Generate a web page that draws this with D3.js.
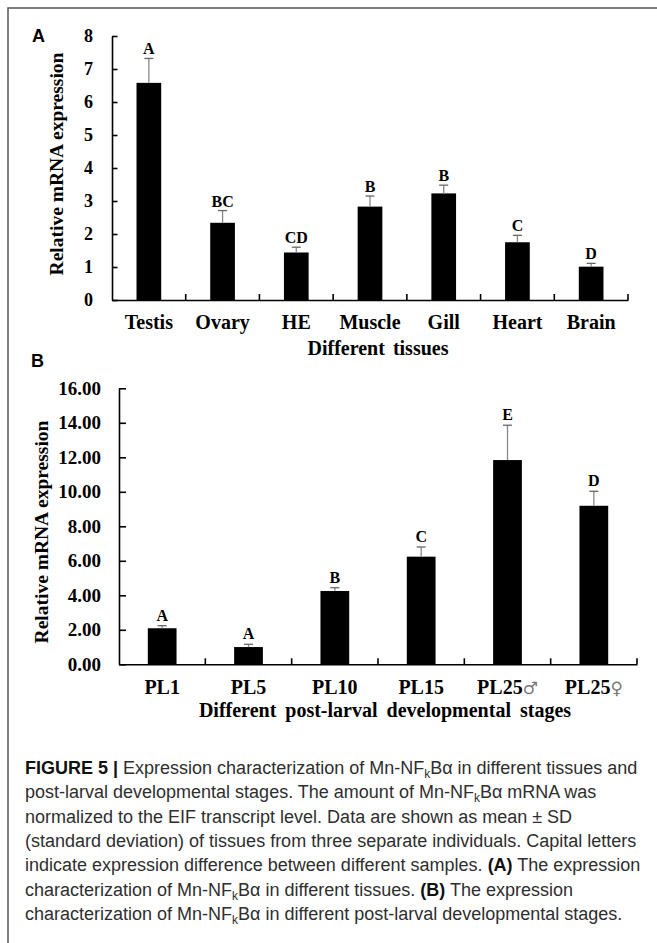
<!DOCTYPE html>
<html><head><meta charset="utf-8">
<script src="https://cdn.jsdelivr.net/npm/d3@7"></script>
<style>
html,body{margin:0;padding:0;background:#fff;}
svg{display:block;}
</style></head>
<body>
<svg id="fig" width="657" height="943"></svg>
<script>
// ---- Data ----
const tissues = ["Testis","Ovary","HE","Muscle","Gill","Heart","Brain"];
const tissueMeans = [6.58, 2.34, 1.44, 2.83, 3.23, 1.75, 1.01];
const tissueSD = [0.74, 0.37, 0.16, 0.32, 0.25, 0.21, 0.10];
const tissueLetters = ["A","BC","CD","B","B","C","D"];
const tissueTicks = [0,1,2,3,4,5,6,7,8];

const stages = ["PL1","PL5","PL10","PL15","PL25♂","PL25♀"];
const stageMeans = [2.09, 1.00, 4.25, 6.24, 11.84, 9.19];
const stageSD = [0.15, 0.16, 0.19, 0.56, 2.02, 0.84];
const stageLetters = ["A","A","B","C","E","D"];
const stageTicks = [0,2,4,6,8,10,12,14,16];

const yTitle = "Relative mRNA expression";
const xTitleA = "Different tissues";
const xTitleB = "Different post-larval developmental stages";

const captionLines = [
  [["FIGURE 5 | ","b"],["Expression characterization of Mn-NF",""],["k","sub"],["Bα in different tissues and",""]],
  [["post-larval developmental stages. The amount of Mn-NF",""],["k","sub"],["Bα mRNA was",""]],
  [["normalized to the EIF transcript level. Data are shown as mean ± SD",""]],
  [["(standard deviation) of tissues from three separate individuals. Capital letters",""]],
  [["indicate expression difference between different samples. ",""],["(A)","b"],[" The expression",""]],
  [["characterization of Mn-NF",""],["k","sub"],["Bα in different tissues. ",""],["(B)","b"],[" The expression",""]],
  [["characterization of Mn-NF",""],["k","sub"],["Bα in different post-larval developmental stages.",""]]
];

// ---- Drawing ----
const svg = d3.select("#fig");
svg.append("rect").attr("width",657).attr("height",943).attr("fill","#fff");
// frame
svg.append("path").attr("d","M8,943 V8 H657").attr("fill","none").attr("stroke","#555").attr("stroke-width",1.5);

const SERIF = "'Liberation Serif','Times New Roman',serif";
const SANS = "'Liberation Sans',Arial,sans-serif";

function panel(cfg){
  const g = svg.append("g");
  const x = d3.scaleBand().domain(cfg.cats).range([cfg.x0,cfg.x1]).padding(0);
  const y = d3.scaleLinear().domain([cfg.ticks[0], cfg.ticks[cfg.ticks.length-1]]).range([cfg.y0,cfg.y1]);
  const bw = x.bandwidth()*cfg.barFrac;

  // y axis
  const ya = g.append("g").attr("transform",`translate(${cfg.x0},0)`)
    .call(d3.axisLeft(y).tickValues(cfg.ticks).tickFormat(cfg.fmt).tickSizeInner(-cfg.tickLen).tickSizeOuter(0).tickPadding(cfg.yPad));
  ya.selectAll("path,line").attr("stroke","#000").attr("stroke-width",1.6);
  ya.selectAll("text").attr("font-family",SERIF).attr("font-weight","bold").attr("font-size",cfg.yFont).attr("fill","#000");

  // x axis
  const xa = g.append("g").attr("transform",`translate(0,${cfg.y0})`)
    .call(d3.axisBottom(x).tickSizeInner(0).tickSizeOuter(0).tickPadding(cfg.xPad));
  xa.selectAll("path").attr("stroke","#000").attr("stroke-width",1.6);
  xa.selectAll("text").attr("font-family",SERIF).attr("font-weight","bold").attr("font-size",cfg.xFont).attr("fill","#000");
  // boundary ticks
  g.selectAll(".bt").data(cfg.cats).enter().append("line")
    .attr("x1",d=>x(d)+x.step()).attr("x2",d=>x(d)+x.step())
    .attr("y1",cfg.y0).attr("y2",cfg.y0-6).attr("stroke","#000").attr("stroke-width",1.6);

  // bars
  const data = cfg.cats.map((c,i)=>({c, m:cfg.means[i], sd:cfg.sds[i], l:cfg.letters[i]}));
  g.selectAll(".bar").data(data).enter().append("rect")
    .attr("x",d=>x(d.c)+x.bandwidth()/2-bw/2).attr("width",bw)
    .attr("y",d=>y(d.m)).attr("height",d=>y(0)-y(d.m)).attr("fill","#000");
  // error bars
  g.selectAll(".eb").data(data).enter().append("line")
    .attr("x1",d=>x(d.c)+x.bandwidth()/2).attr("x2",d=>x(d.c)+x.bandwidth()/2)
    .attr("y1",d=>y(d.m)).attr("y2",d=>y(d.m+d.sd)).attr("stroke","#888").attr("stroke-width",1.3);
  g.selectAll(".ec").data(data).enter().append("line")
    .attr("x1",d=>x(d.c)+x.bandwidth()/2-4.5).attr("x2",d=>x(d.c)+x.bandwidth()/2+4.5)
    .attr("y1",d=>y(d.m+d.sd)).attr("y2",d=>y(d.m+d.sd)).attr("stroke","#666").attr("stroke-width",1.3);
  // letters
  g.selectAll(".lt").data(data).enter().append("text")
    .attr("x",d=>x(d.c)+x.bandwidth()/2).attr("y",d=>y(d.m+d.sd)-cfg.letterGap)
    .attr("text-anchor","middle").attr("font-family",SERIF).attr("font-weight","bold")
    .attr("font-size",cfg.letterFont).text(d=>d.l);

  // axis titles
  g.append("text").attr("transform",`translate(${cfg.yTitleX},${cfg.yTitleY}) rotate(-90)`)
    .attr("text-anchor","middle").attr("dominant-baseline","central")
    .attr("font-family",SERIF).attr("font-weight","bold").attr("font-size",cfg.yTitleFont).text(yTitle);
  g.append("text").attr("x",cfg.xTitleX).attr("y",cfg.xTitleY).attr("text-anchor","middle")
    .attr("font-family",SERIF).attr("font-weight","bold").attr("font-size",cfg.xTitleFont)
    .attr("word-spacing",cfg.wordSpacing).text(cfg.xTitle);
  // panel label
  g.append("text").attr("x",cfg.labelX).attr("y",cfg.labelY).attr("font-family",SANS)
    .attr("font-weight","bold").attr("font-size",18).text(cfg.label);
  return {g, xa};
}

panel({cats:tissues, means:tissueMeans, sds:tissueSD, letters:tissueLetters, ticks:tissueTicks,
  fmt:d3.format("d"), x0:112, x1:628, y0:300, y1:36, barFrac:0.335, tickLen:5.5, yPad:19, xPad:15,
  yFont:18, xFont:20, letterFont:16, letterGap:4, yTitleX:56, yTitleY:164, yTitleFont:19.5,
  xTitle:xTitleA, xTitleX:378, xTitleY:355, xTitleFont:20, wordSpacing:3, label:"A", labelX:32, labelY:42});

const pb = panel({cats:stages, means:stageMeans, sds:stageSD, letters:stageLetters, ticks:stageTicks,
  fmt:d3.format(".2f"), x0:119, x1:637, y0:664.3, y1:388.3, barFrac:0.333, tickLen:7, yPad:18, xPad:15.5,
  yFont:19, xFont:20, letterFont:16, letterGap:5, yTitleX:41, yTitleY:532, yTitleFont:19.5,
  xTitle:xTitleB, xTitleX:385, xTitleY:717, xTitleFont:20, wordSpacing:4, label:"B", labelX:31, labelY:366.5});

// gender symbols in lighter style
pb.xa.selectAll(".tick text").each(function(d){
  const m = d.match(/^(PL\d+)([♂♀])$/);
  if(m){
    const t = d3.select(this); t.text(null);
    t.append("tspan").text(m[1]);
    t.append("tspan").attr("font-family","'DejaVu Sans',sans-serif").attr("font-weight","normal")
      .attr("font-size",17).attr("fill","#777").text(m[2]);
  }
});

// caption
const cap = svg.append("g").attr("font-family",SANS).attr("font-size",18).attr("fill","#2e2e2e");
captionLines.forEach((segs,i)=>{
  const t = cap.append("text").attr("x",25).attr("y",774+i*24.3);
  let pending = 0;
  segs.forEach(([s,st])=>{
    const ts = t.append("tspan").text(s);
    if(st==="sub"){
      ts.attr("dy",4).attr("font-size",12);
      pending = -4;
    } else {
      if(pending){ ts.attr("dy",pending); pending = 0; }
      if(st==="b") ts.attr("font-weight","bold").attr("fill","#111");
    }
  });
});
</script>
</body></html>
